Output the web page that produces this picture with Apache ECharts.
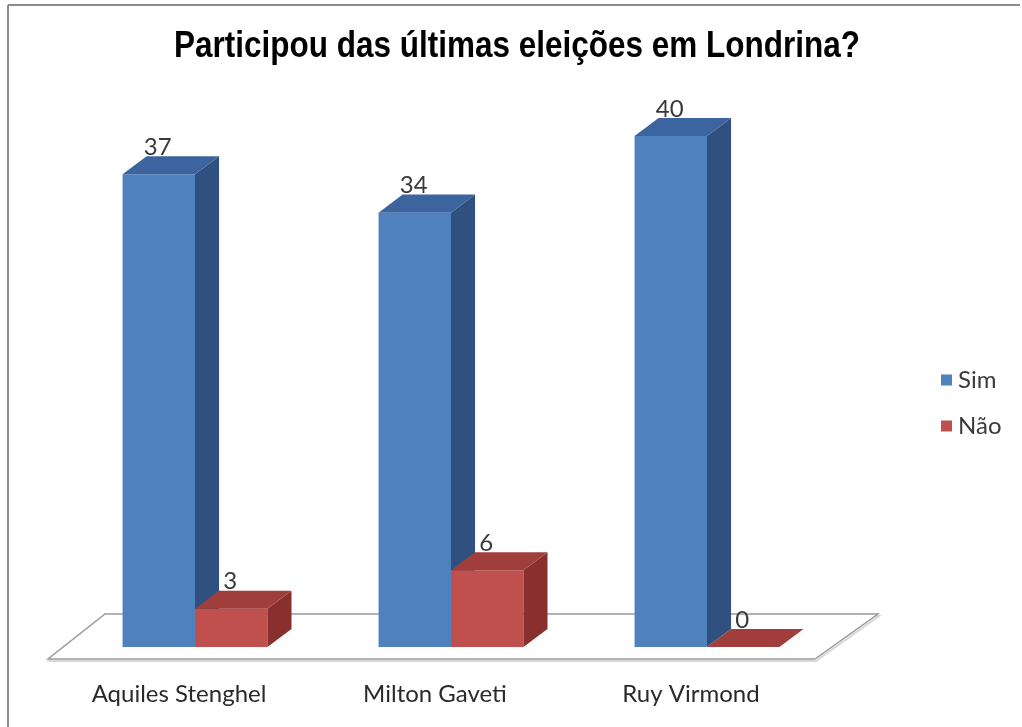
<!DOCTYPE html>
<html>
<head>
<meta charset="utf-8">
<script src="https://cdn.jsdelivr.net/npm/echarts@6/dist/echarts.min.js"></script>
<style>
html,body{margin:0;padding:0;background:#fff;}
#chart{width:1022px;height:727px;}
</style>
</head>
<body>
<div id="chart"></div>
<script>
const titleText = 'Participou das últimas eleições em Londrina?';
const categories = ['Aquiles Stenghel', 'Milton Gaveti', 'Ruy Virmond'];
const simValues = [37, 34, 40];
const naoValues = [3, 6, 0];
const seriesNames = ['Sim', 'Não'];

const palette = [
  { front: '#4F81BD', top: '#3C65A0', side: '#30507F' },
  { front: '#C0504D', top: '#A03E3B', side: '#89302E' }
];

function barRenderer(sIdx) {
  return function (params, api) {
    const cat = api.value(0);
    const val = api.value(1);
    const p = api.coord([cat, val]);
    const base = api.coord([cat, 0]);
    const band = api.size([1, 0])[0];
    const w = band * 0.283;
    const dx = band * 0.094;
    const dy = dx * 0.75;
    const x0 = sIdx === 0 ? p[0] - w : p[0];
    const x1 = x0 + w;
    const yt = p[1];
    const yb = base[1];
    const c = palette[sIdx];
    const children = [];
    if (yb - yt > 0) {
      children.push({ type: 'rect', shape: { x: x0, y: yt, width: w, height: yb - yt }, style: { fill: c.front } });
      children.push({ type: 'polygon', shape: { points: [[x1, yt], [x1 + dx, yt - dy], [x1 + dx, yb - dy], [x1, yb]] }, style: { fill: c.side } });
    }
    children.push({ type: 'polygon', shape: { points: [[x0, yt], [x0 + dx, yt - dy], [x1 + dx, yt - dy], [x1, yt]] }, style: { fill: c.top } });
    children.push({ type: 'text', style: { text: String(val), x: x0 + w / 2 - 1, y: yt - 27, align: 'center', verticalAlign: 'middle', fill: '#3a3a3a', font: '24px Lato, "Open Sans", sans-serif' } });
    return { type: 'group', children: children };
  };
}

function floorRenderer(params, api) {
  const cs = params.coordSys;
  const xl = cs.x, xr = cs.x + cs.width, yb = cs.y + cs.height;
  const pts = [[xl - 19, yb + 12], [xr - 20, yb + 12], [xr + 43, yb - 33], [xl + 38, yb - 33]];
  return {
    type: 'group',
    children: [
      { type: 'polygon', shape: { points: pts.map(q => [q[0] + 1, q[1] + 2]) }, style: { fill: 'none', stroke: '#d8d8d8', lineWidth: 2 } },
      { type: 'polygon', shape: { points: pts }, style: { fill: '#ffffff', stroke: '#9a9a9a', lineWidth: 1.5 } }
    ]
  };
}

const chart = echarts.init(document.getElementById('chart'), null, { renderer: 'canvas' });
chart.setOption({
  backgroundColor: '#ffffff',
  animation: false,
  legend: {
    data: seriesNames,
    orient: 'vertical',
    left: 936, top: 363,
    itemWidth: 11, itemHeight: 11, itemGap: 22,
    icon: 'rect',
    textStyle: { fontFamily: 'Lato, "Open Sans", sans-serif', fontSize: 24, color: '#3a3a3a', padding: [0, 0, 0, 1] }
  },
  grid: { left: 67, right: 187, top: 136, bottom: 80 },
  xAxis: {
    type: 'category', data: categories,
    axisLine: { show: false }, axisTick: { show: false }, splitLine: { show: false },
    axisLabel: { margin: 35, padding: [0, 32, 0, 0], fontFamily: 'Lato, "Open Sans", sans-serif', fontSize: 24, color: '#2a2a2a' }
  },
  yAxis: { type: 'value', min: 0, max: 40, show: false },
  graphic: [
    { type: 'line', shape: { x1: 8, y1: 5, x2: 1020, y2: 5 }, style: { stroke: '#8c8c8c', lineWidth: 2 } },
    { type: 'line', shape: { x1: 8, y1: 5, x2: 8, y2: 727 }, style: { stroke: '#8c8c8c', lineWidth: 2 } },
    { type: 'text', x: 517, y: 47, scaleY: 1.15, style: { text: titleText, x: 0, y: 0, align: 'center', verticalAlign: 'middle', fill: '#000', font: 'bold 31.5px "Liberation Sans", Arial, sans-serif' } }
  ],
  series: [
    { type: 'custom', name: 'floor', renderItem: floorRenderer, data: [[0]], z: 1, silent: true, encode: { x: 0 } },
    { type: 'custom', name: seriesNames[0], renderItem: barRenderer(0), itemStyle: { color: palette[0].front }, data: simValues.map((v, i) => [i, v]), encode: { x: 0, y: 1 }, z: 2 },
    { type: 'custom', name: seriesNames[1], renderItem: barRenderer(1), itemStyle: { color: palette[1].front }, data: naoValues.map((v, i) => [i, v]), encode: { x: 0, y: 1 }, z: 3 }
  ]
});
</script>
</body>
</html>
